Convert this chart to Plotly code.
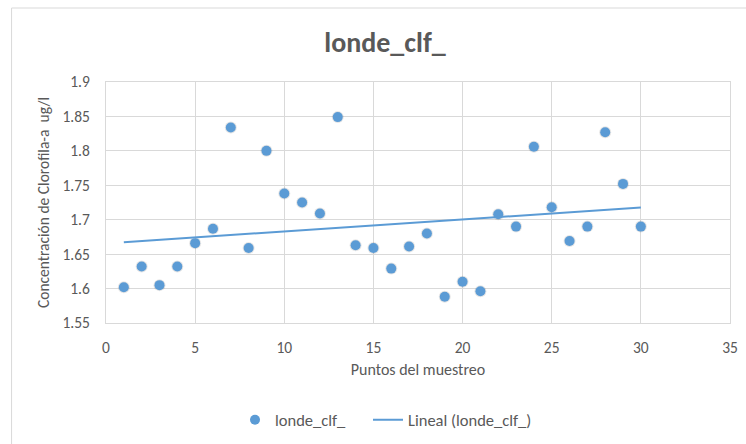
import numpy as np
import plotly.graph_objects as go

puntos = list(range(1, 31))
clorofila = [1.602, 1.632, 1.605, 1.632, 1.666, 1.687, 1.834, 1.659, 1.800, 1.738,
             1.725, 1.709, 1.849, 1.663, 1.659, 1.629, 1.661, 1.680, 1.588, 1.610,
             1.596, 1.708, 1.690, 1.806, 1.718, 1.669, 1.690, 1.827, 1.752, 1.690]
x_ticks = [0, 5, 10, 15, 20, 25, 30, 35]
y_ticks = [1.55, 1.6, 1.65, 1.7, 1.75, 1.8, 1.85, 1.9]
y_tick_labels = ["1.55", "1.6", "1.65", "1.7", "1.75", "1.8", "1.85", "1.9"]

slope, intercept = np.polyfit(puntos, clorofila, 1)
trend_x = [puntos[0], puntos[-1]]
trend_y = [slope * v + intercept for v in trend_x]

BLUE = "#5B9BD5"
GREY = "#595959"
GRID = "#D9D9D9"
FONT = "Carlito, Calibri, Lato, sans-serif"

W, H = 746, 444
L, R, T, B = 105.5, 16, 82, 121
pw = W - L - R
ph = H - T - B

fig = go.Figure()
# soft shadow under markers
fig.add_trace(go.Scatter(x=puntos, y=clorofila, mode="markers",
                         marker=dict(size=12, color="rgba(0,0,0,0.10)"),
                         showlegend=False, hoverinfo="skip"))
fig.add_trace(go.Scatter(x=puntos, y=clorofila, mode="markers", name="londe_clf_",
                         marker=dict(size=10, color=BLUE), legend="legend"))
fig.add_trace(go.Scatter(x=trend_x, y=trend_y, mode="lines", name="Lineal (londe_clf_)",
                         line=dict(color=BLUE, width=2), legend="legend2"))

def px_x(p):
    return (p - L) / pw

def px_y(p):
    return (H - B - p) / ph

legend_common = dict(orientation="h", xref="container", yref="container",
                     y=1 - 420 / H, yanchor="middle", xanchor="left",
                     font=dict(size=16.5, color=GREY), itemwidth=30,
                     bgcolor="rgba(0,0,0,0)")

fig.update_layout(
    width=W, height=H,
    margin=dict(l=L, r=R, t=T, b=B, autoexpand=False),
    paper_bgcolor="white", plot_bgcolor="white",
    font=dict(family=FONT, color=GREY, size=15),
    title=dict(text="<b>londe_clf_</b>", x=385 / W, xref="container",
               y=1 - 42 / H, yref="container", xanchor="center", yanchor="middle",
               font=dict(size=28, color=GREY, family=FONT)),
    xaxis=dict(range=[0, 35], tickvals=x_ticks, showgrid=True, gridcolor=GRID,
               showline=True, linecolor=GRID, mirror=True, zeroline=False,
               ticks="", ticklabelstandoff=10,
               tickfont=dict(size=15.5, color=GREY),
               title=dict(text="Puntos del muestreo", standoff=8,
                          font=dict(size=16, color=GREY))),
    yaxis=dict(range=[1.55, 1.9], tickvals=y_ticks, ticktext=y_tick_labels,
               showgrid=True, gridcolor=GRID, showline=True, linecolor=GRID,
               mirror=True, zeroline=False, ticks="", ticklabelstandoff=12,
               tickfont=dict(size=15.5, color=GREY),
               title=dict(text="Concentración de Clorofila-a  ug/l", standoff=8,
                          font=dict(size=15.5, color=GREY))),
    legend=dict(legend_common, x=235 / W),
    legend2=dict(legend_common, x=368 / W),
    shapes=[dict(type="rect", xref="paper", yref="paper",
                 x0=px_x(11), x1=px_x(760), y0=px_y(460), y1=px_y(8),
                 line=dict(color=GRID, width=1), fillcolor="rgba(0,0,0,0)",
                 layer="below")],
)

fig.write_html("out.html")
